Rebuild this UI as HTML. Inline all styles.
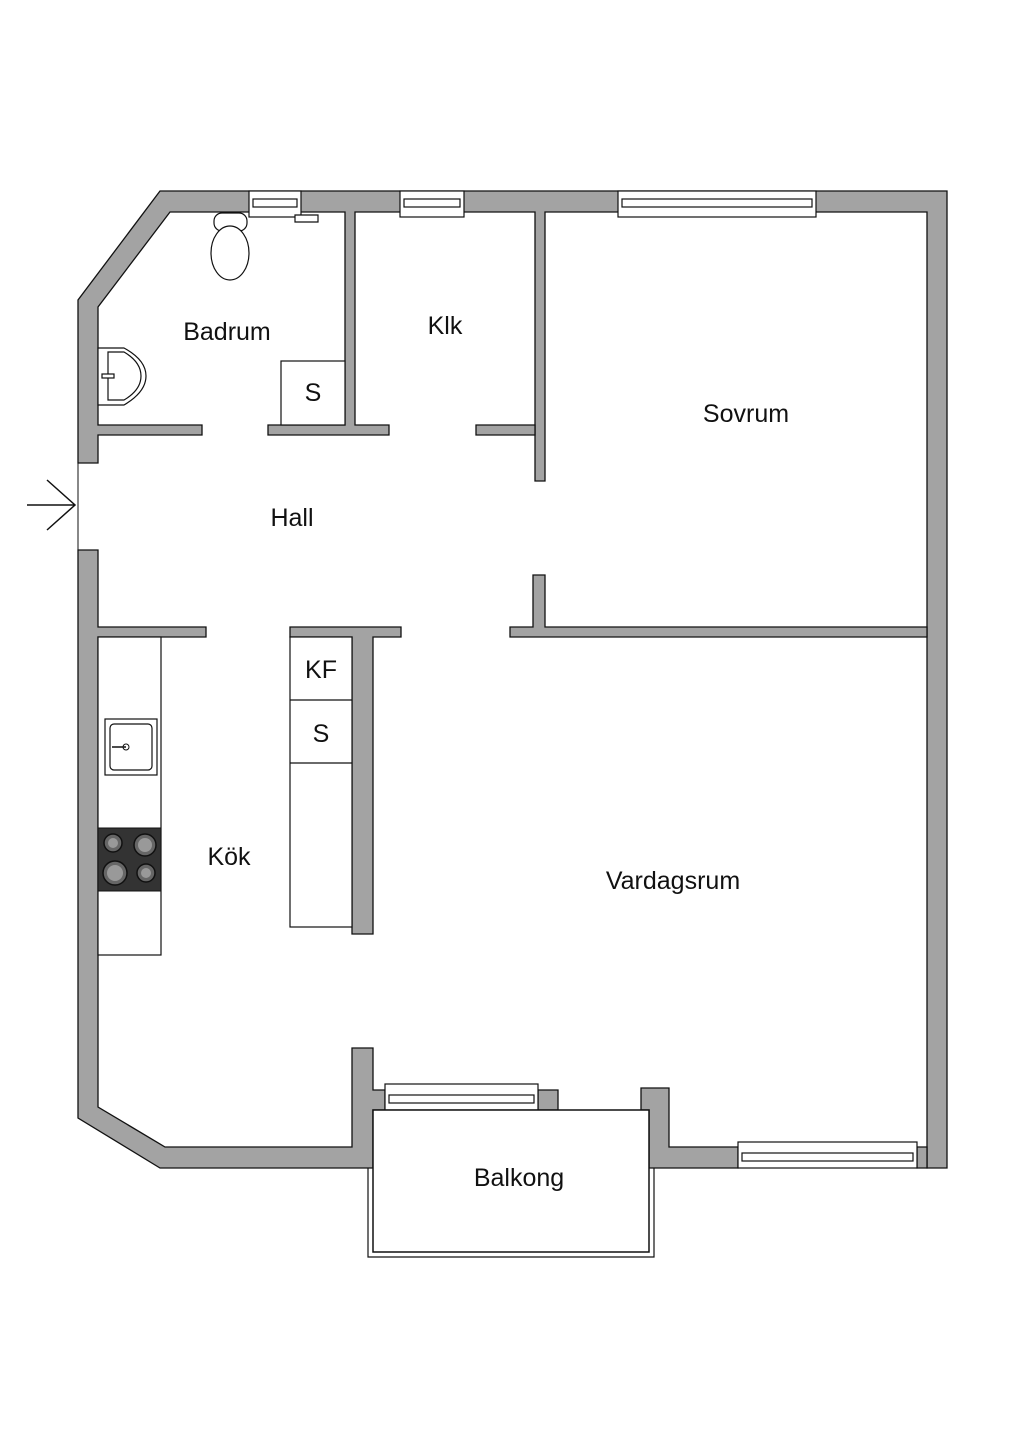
<!DOCTYPE html>
<html><head><meta charset="utf-8"><style>
html,body{margin:0;padding:0;background:#fff;}
svg{display:block;}
text{font-family:"Liberation Sans",sans-serif;font-size:25px;fill:#111;}
</style></head><body>
<svg width="1024" height="1448" viewBox="0 0 1024 1448" xmlns="http://www.w3.org/2000/svg">
<g fill="#a3a3a3" stroke="#111" stroke-width="1.3">
<path d="M160,191 L947,191 L947,1168 L927,1168 L927,212 L545,212 L545,481 L535,481 L535,212 L355,212 L355,425 L389,425 L389,435 L268,435 L268,425 L345,425 L345,212 L170,212 L98,307 L98,425 L202,425 L202,435 L98,435 L98,463 L78,463 L78,300 Z"/>
<path d="M476,425 L535,425 L535,435 L476,435 Z"/>
<path d="M78,550 L98,550 L98,627 L206,627 L206,637 L98,637 L98,1107 L165,1147 L352,1147 L352,1048 L373,1048 L373,1090 L385,1090 L385,1110 L373,1110 L373,1168 L160,1168 L78,1118 Z"/>
<path d="M538,1090 L558,1090 L558,1110 L538,1110 Z"/>
<path d="M641,1088 L669,1088 L669,1147 L738,1147 L738,1168 L649,1168 L649,1110 L641,1110 Z"/>
<path d="M917,1147 L927,1147 L927,1168 L917,1168 Z"/>
<path d="M533,575 L545,575 L545,627 L927,627 L927,637 L510,637 L510,627 L533,627 Z"/>
<path d="M290,627 L401,627 L401,637 L373,637 L373,934 L352,934 L352,637 L290,637 Z"/>
</g>
<line x1="78" y1="463" x2="78" y2="550" stroke="#111" stroke-width="1"/>
<path d="M27,505 L75,505 M47,480 L75,505 L47,530" fill="none" stroke="#111" stroke-width="1.5"/>
<g fill="#fff" stroke="#111" stroke-width="1.2">
<rect x="249" y="191" width="52" height="26"/><rect x="253" y="199" width="44" height="8"/>
<rect x="400" y="191" width="64" height="26"/><rect x="404" y="199" width="56" height="8"/>
<rect x="618" y="191" width="198" height="26"/><rect x="622" y="199" width="190" height="8"/>
<rect x="385" y="1084" width="153" height="26"/><rect x="389" y="1095" width="145" height="8"/>
<rect x="738" y="1142" width="179" height="26"/><rect x="742" y="1153" width="171" height="8"/>
</g>
<path d="M368,1168 L368,1257 L654,1257 L654,1168" fill="none" stroke="#111" stroke-width="1.2"/>
<rect x="373" y="1110" width="276" height="142" fill="#fff" stroke="#111" stroke-width="1.5"/>
<g fill="#fff" stroke="#111" stroke-width="1.2">
<rect x="281" y="361" width="64" height="64"/>
<rect x="214" y="213" width="33" height="18" rx="8"/>
<ellipse cx="230" cy="253" rx="19" ry="27"/>
<path d="M98,348 L124,348 Q146,360 146,376 Q146,392 124,405 L98,405 Z"/>
<path d="M108,352 L124,352 Q141,362 141,376 Q141,390 124,400 L108,400 Z"/>
<rect x="102" y="374" width="12" height="4"/>
<path d="M295,215 L318,215 L318,222 L295,222 Z"/>
<rect x="98" y="637" width="63" height="318"/>
<rect x="290" y="637" width="62" height="290"/>
<line x1="290" y1="700" x2="352" y2="700"/>
<line x1="290" y1="763" x2="352" y2="763"/>
<rect x="105" y="719" width="52" height="56"/>
<rect x="110" y="724" width="42" height="46" rx="4"/>
</g>
<circle cx="126" cy="747" r="3" fill="none" stroke="#111"/>
<line x1="112" y1="747" x2="126" y2="747" stroke="#111" stroke-width="1.5"/>
<rect x="98" y="828" width="63" height="63" fill="#333" stroke="#111"/>
<g fill="#666" stroke="#111" stroke-width="1.5">
<circle cx="113" cy="843" r="9"/><circle cx="145" cy="845" r="11"/>
<circle cx="115" cy="873" r="12"/><circle cx="146" cy="873" r="9"/>
</g>
<g fill="#999" stroke="none">
<circle cx="113" cy="843" r="5"/><circle cx="145" cy="845" r="7"/>
<circle cx="115" cy="873" r="8"/><circle cx="146" cy="873" r="5"/>
</g>
<text x="227" y="340" text-anchor="middle">Badrum</text>
<text x="445" y="334" text-anchor="middle">Klk</text>
<text x="313" y="401" text-anchor="middle">S</text>
<text x="746" y="422" text-anchor="middle">Sovrum</text>
<text x="292" y="526" text-anchor="middle">Hall</text>
<text x="321" y="678" text-anchor="middle">KF</text>
<text x="321" y="742" text-anchor="middle">S</text>
<text x="229" y="865" text-anchor="middle">Kök</text>
<text x="673" y="889" text-anchor="middle">Vardagsrum</text>
<text x="519" y="1186" text-anchor="middle">Balkong</text>
</svg>
</body></html>
